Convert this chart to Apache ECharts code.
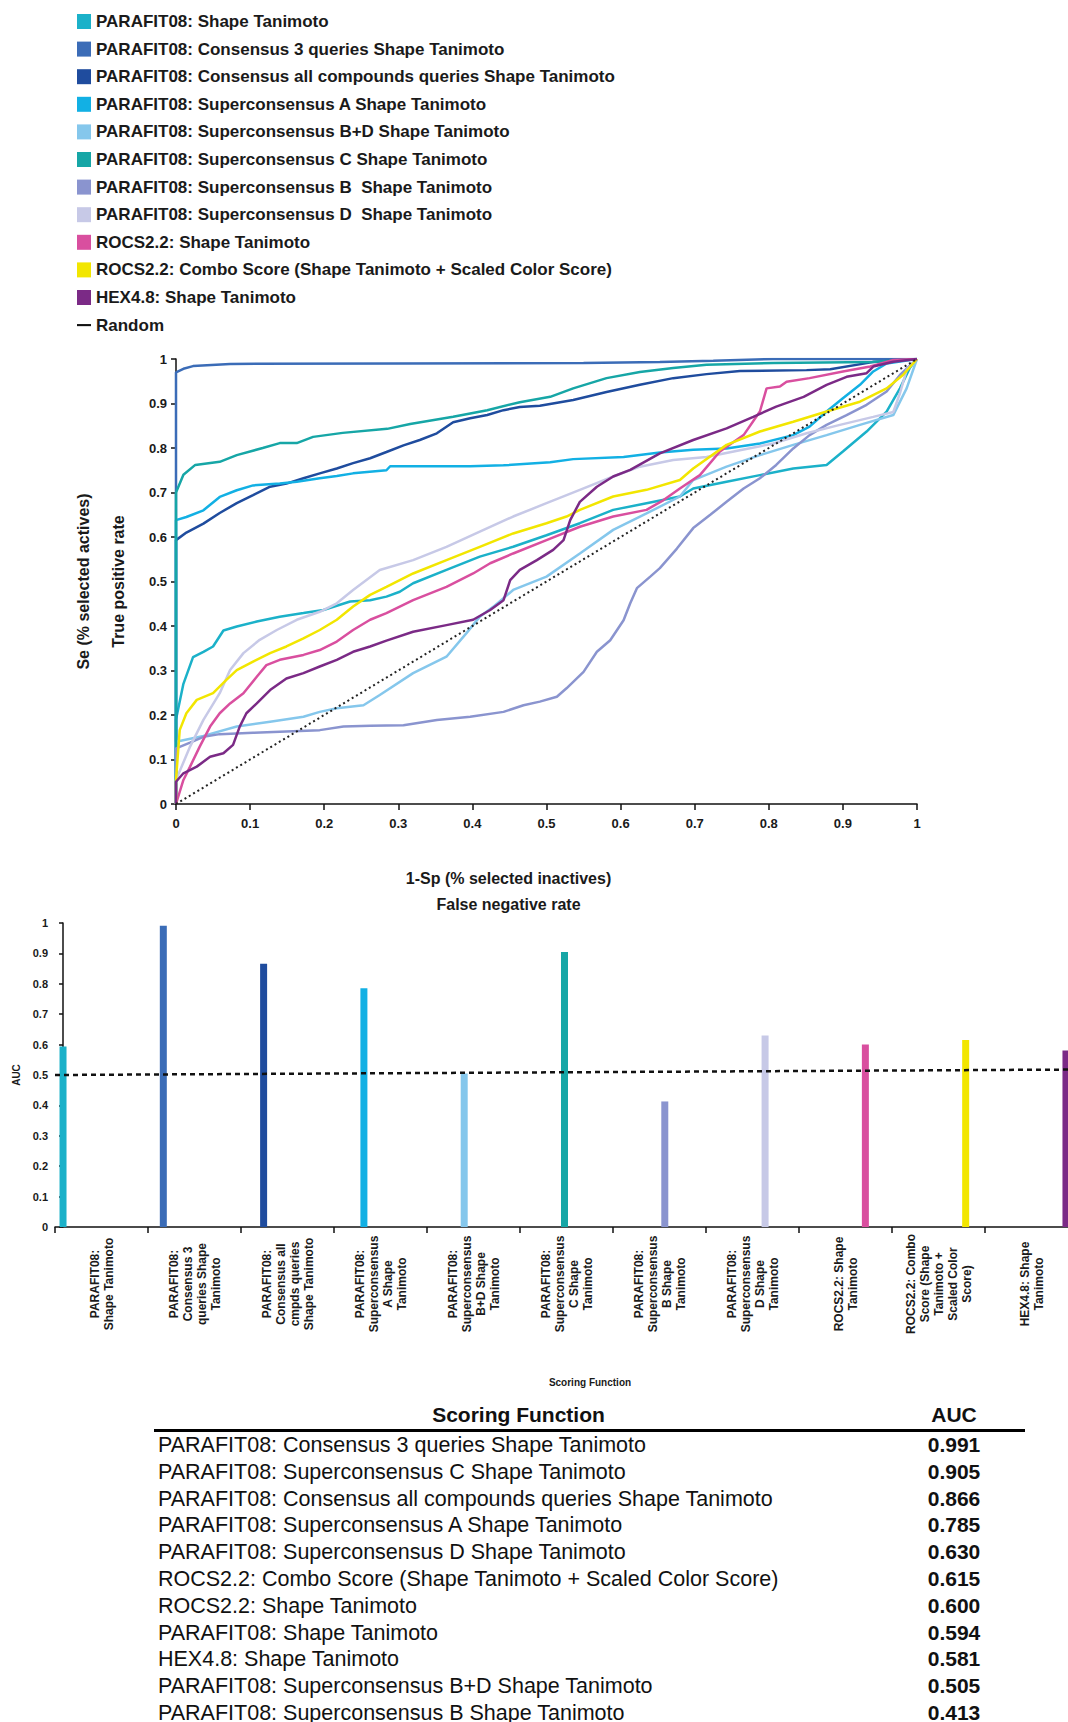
<!DOCTYPE html>
<html>
<head>
<meta charset="utf-8">
<script src="https://cdn.jsdelivr.net/npm/echarts@6/dist/echarts.min.js"></script>
<style>
  body { margin: 0; background: #fff; }
  #chart { position: absolute; left: 0; top: 0; width: 1068px; height: 1722px; }
  #aucTable { position: absolute; left: 154px; top: 1401px; width: 871px; border-collapse: collapse;
    font-family: "Liberation Sans", Arial, sans-serif; color: #111; }
  #aucTable th { font-size: 21px; font-weight: bold; height: 28px; line-height: 28px; padding: 0;
    border-bottom: 3px solid #000; }
  #aucTable td { font-size: 21.5px; height: 26.8px; line-height: 26.8px; padding: 0; white-space: nowrap; }
  #aucTable td.name { padding-left: 4px; }
  #aucTable td.auc, #aucTable th.auc { text-align: center; width: 142px; }
  #aucTable td.auc { font-weight: bold; font-size: 21px; }
</style>
</head>
<body>
<div id="chart"></div>
<table id="aucTable"><thead><tr><th>Scoring Function</th><th class="auc">AUC</th></tr></thead><tbody></tbody></table>
<script>
// ROC curves, [1-Sp, Se]
var shapeTan = [[0,0],[0,0.19],[0.01,0.27],[0.023,0.33],[0.037,0.342],[0.05,0.354],[0.064,0.39],[0.082,0.399],[0.109,0.41],[0.14,0.421],[0.172,0.429],[0.199,0.436],[0.235,0.455],[0.262,0.458],[0.284,0.466],[0.302,0.477],[0.32,0.496],[0.365,0.526],[0.41,0.556],[0.455,0.578],[0.5,0.604],[0.545,0.631],[0.59,0.661],[0.635,0.676],[0.68,0.691],[0.698,0.709],[0.743,0.724],[0.788,0.739],[0.833,0.754],[0.878,0.762],[0.9,0.792],[0.932,0.837],[0.959,0.882],[0.977,0.934],[0.99,0.979],[1,1]]
var cons3 = [[0,0],[0,0.97],[0.01,0.978],[0.023,0.984],[0.073,0.989],[0.3,0.99],[0.55,0.991],[0.653,0.993],[0.725,0.996],[0.806,1],[1,1]]
var consAll = [[0,0],[0,0.593],[0.014,0.61],[0.037,0.63],[0.059,0.654],[0.082,0.676],[0.104,0.694],[0.127,0.713],[0.149,0.72],[0.172,0.732],[0.194,0.743],[0.217,0.754],[0.239,0.766],[0.262,0.777],[0.284,0.791],[0.307,0.806],[0.329,0.818],[0.352,0.833],[0.374,0.858],[0.397,0.867],[0.42,0.874],[0.442,0.885],[0.464,0.892],[0.491,0.895],[0.536,0.908],[0.581,0.926],[0.626,0.942],[0.671,0.957],[0.716,0.966],[0.761,0.973],[0.851,0.975],[0.883,0.977],[0.94,0.993],[1,1]]
var supA = [[0,0],[0,0.638],[0.014,0.645],[0.037,0.66],[0.059,0.69],[0.082,0.705],[0.104,0.716],[0.14,0.72],[0.163,0.724],[0.194,0.732],[0.217,0.737],[0.239,0.743],[0.284,0.75],[0.289,0.759],[0.397,0.759],[0.442,0.761],[0.505,0.768],[0.536,0.775],[0.604,0.78],[0.653,0.79],[0.698,0.796],[0.743,0.799],[0.788,0.81],[0.833,0.829],[0.855,0.848],[0.878,0.882],[0.9,0.912],[0.923,0.942],[0.941,0.972],[0.959,0.99],[1,1]]
var supBD = [[0,0],[0,0.14],[0.037,0.153],[0.082,0.174],[0.127,0.185],[0.172,0.196],[0.194,0.207],[0.217,0.215],[0.253,0.222],[0.275,0.245],[0.32,0.294],[0.365,0.331],[0.392,0.384],[0.41,0.421],[0.428,0.443],[0.455,0.481],[0.5,0.511],[0.545,0.563],[0.59,0.616],[0.635,0.653],[0.68,0.691],[0.698,0.728],[0.743,0.758],[0.788,0.784],[0.833,0.807],[0.878,0.829],[0.923,0.852],[0.968,0.874],[0.986,0.934],[1,1]]
var supC = [[0,0],[0,0.70],[0.01,0.74],[0.026,0.762],[0.059,0.769],[0.082,0.784],[0.117,0.80],[0.14,0.811],[0.163,0.811],[0.185,0.825],[0.225,0.834],[0.285,0.843],[0.316,0.854],[0.374,0.87],[0.42,0.885],[0.464,0.903],[0.505,0.915],[0.536,0.934],[0.581,0.957],[0.626,0.971],[0.671,0.98],[0.716,0.987],[0.806,0.991],[0.94,0.993],[1,1]]
var supB = [[0,0],[0,0.125],[0.019,0.138],[0.037,0.151],[0.059,0.157],[0.104,0.16],[0.149,0.163],[0.194,0.166],[0.226,0.174],[0.262,0.176],[0.307,0.177],[0.352,0.189],[0.397,0.196],[0.442,0.207],[0.469,0.222],[0.491,0.23],[0.514,0.241],[0.527,0.26],[0.55,0.297],[0.568,0.342],[0.586,0.368],[0.604,0.413],[0.613,0.451],[0.622,0.485],[0.64,0.511],[0.653,0.53],[0.676,0.574],[0.698,0.62],[0.721,0.65],[0.743,0.679],[0.766,0.709],[0.788,0.732],[0.81,0.762],[0.833,0.799],[0.855,0.829],[0.878,0.852],[0.905,0.874],[0.932,0.897],[0.959,0.927],[0.977,0.964],[1,1]]
var supD = [[0,0],[0,0.054],[0.019,0.129],[0.037,0.189],[0.059,0.249],[0.073,0.301],[0.091,0.339],[0.113,0.369],[0.136,0.391],[0.163,0.414],[0.194,0.432],[0.217,0.451],[0.239,0.481],[0.275,0.526],[0.32,0.548],[0.365,0.578],[0.41,0.612],[0.455,0.646],[0.5,0.676],[0.545,0.706],[0.59,0.736],[0.626,0.758],[0.671,0.773],[0.716,0.78],[0.761,0.795],[0.806,0.81],[0.851,0.833],[0.896,0.852],[0.941,0.87],[0.968,0.881],[0.977,0.923],[0.986,0.975],[1,1]]
var rocsShape = [[0,0],[0.01,0.054],[0.019,0.084],[0.032,0.129],[0.046,0.174],[0.059,0.204],[0.073,0.226],[0.091,0.249],[0.109,0.286],[0.122,0.312],[0.14,0.324],[0.172,0.335],[0.194,0.346],[0.217,0.365],[0.239,0.391],[0.262,0.414],[0.284,0.429],[0.32,0.458],[0.365,0.488],[0.401,0.518],[0.424,0.541],[0.455,0.563],[0.5,0.593],[0.545,0.623],[0.59,0.646],[0.635,0.661],[0.658,0.683],[0.68,0.709],[0.707,0.739],[0.734,0.792],[0.766,0.829],[0.788,0.882],[0.797,0.934],[0.815,0.938],[0.824,0.949],[0.855,0.957],[0.9,0.972],[0.937,0.983],[0.968,0.998],[1,1]]
var rocsCombo = [[0,0],[0,0.054],[0.005,0.166],[0.014,0.204],[0.028,0.234],[0.05,0.249],[0.068,0.279],[0.082,0.301],[0.104,0.32],[0.127,0.339],[0.149,0.354],[0.172,0.372],[0.194,0.391],[0.217,0.414],[0.239,0.444],[0.262,0.47],[0.284,0.488],[0.32,0.518],[0.365,0.548],[0.41,0.578],[0.455,0.608],[0.5,0.631],[0.527,0.646],[0.545,0.661],[0.59,0.691],[0.635,0.706],[0.68,0.728],[0.698,0.754],[0.743,0.807],[0.788,0.837],[0.833,0.859],[0.878,0.882],[0.923,0.904],[0.959,0.934],[0.981,0.964],[1,1]]
var hexShape = [[0,0],[0,0.05],[0.01,0.069],[0.028,0.084],[0.046,0.106],[0.064,0.114],[0.077,0.133],[0.086,0.174],[0.095,0.204],[0.109,0.226],[0.127,0.256],[0.149,0.282],[0.172,0.294],[0.194,0.309],[0.217,0.324],[0.239,0.342],[0.262,0.354],[0.284,0.367],[0.32,0.387],[0.365,0.402],[0.401,0.414],[0.424,0.436],[0.442,0.458],[0.451,0.503],[0.464,0.526],[0.487,0.548],[0.509,0.571],[0.523,0.593],[0.532,0.638],[0.545,0.679],[0.568,0.713],[0.59,0.736],[0.613,0.751],[0.653,0.788],[0.698,0.818],[0.743,0.844],[0.779,0.87],[0.81,0.893],[0.847,0.915],[0.878,0.942],[0.905,0.96],[0.932,0.968],[0.941,0.983],[0.968,0.994],[1,1]]
var randomRoc = [[0,0],[1,1]]

var rocNames = ['PARAFIT08: Shape Tanimoto', 'PARAFIT08: Consensus 3 queries Shape Tanimoto',
  'PARAFIT08: Consensus all compounds queries Shape Tanimoto', 'PARAFIT08: Superconsensus A Shape Tanimoto',
  'PARAFIT08: Superconsensus B+D Shape Tanimoto', 'PARAFIT08: Superconsensus C Shape Tanimoto',
  'PARAFIT08: Superconsensus B  Shape Tanimoto', 'PARAFIT08: Superconsensus D  Shape Tanimoto',
  'ROCS2.2: Shape Tanimoto', 'ROCS2.2: Combo Score (Shape Tanimoto + Scaled Color Score)', 'HEX4.8: Shape Tanimoto']
var rocCurves = [shapeTan, cons3, consAll, supA, supBD, supC, supB, supD, rocsShape, rocsCombo, hexShape]
var colors = ['#1bb1c9', '#3b6cb7', '#1f4c9e', '#12b0e4', '#85c7ec', '#16a6a6', '#8a94cf', '#c7c9e7', '#d94f9f', '#f2e600', '#7b2a86']

// AUC bar chart
var barLabels = ['PARAFIT08:\nShape Tanimoto', 'PARAFIT08:\nConsensus 3\nqueries Shape\nTanimoto',
  'PARAFIT08:\nConsensus all\ncmpds queries\nShape Tanimoto', 'PARAFIT08:\nSuperconsensus\nA Shape\nTanimoto',
  'PARAFIT08:\nSuperconsensus\nB+D Shape\nTanimoto', 'PARAFIT08:\nSuperconsensus\nC Shape\nTanimoto',
  'PARAFIT08:\nSuperconsensus\nB Shape\nTanimoto', 'PARAFIT08:\nSuperconsensus\nD Shape\nTanimoto',
  'ROCS2.2: Shape\nTanimoto', 'ROCS2.2: Combo\nScore (Shape\nTanimoto +\nScaled Color\nScore)', 'HEX4.8: Shape\nTanimoto']
var barAuc = [0.594, 0.991, 0.866, 0.785, 0.505, 0.905, 0.413, 0.630, 0.600, 0.615, 0.581]
var randomAuc = [[-0.08, 0.500], [10.12, 0.518]]

// table, sorted as printed
var tableNames = ['PARAFIT08: Consensus 3 queries Shape Tanimoto', 'PARAFIT08: Superconsensus C Shape Tanimoto',
  'PARAFIT08: Consensus all compounds queries Shape Tanimoto', 'PARAFIT08: Superconsensus A Shape Tanimoto',
  'PARAFIT08: Superconsensus D Shape Tanimoto', 'ROCS2.2: Combo Score (Shape Tanimoto + Scaled Color Score)',
  'ROCS2.2: Shape Tanimoto', 'PARAFIT08: Shape Tanimoto', 'HEX4.8: Shape Tanimoto',
  'PARAFIT08: Superconsensus B+D Shape Tanimoto', 'PARAFIT08: Superconsensus B Shape Tanimoto']
var tableAuc = ['0.991', '0.905', '0.866', '0.785', '0.630', '0.615', '0.600', '0.594', '0.581', '0.505', '0.413']

var FONT = '"Liberation Sans", Arial, sans-serif'
var INK = '#1a1a1a'

var tbody = document.querySelector('#aucTable tbody')
tableNames.forEach(function (n, i) {
  var tr = document.createElement('tr')
  tr.innerHTML = '<td class="name">' + n + '</td><td class="auc">' + tableAuc[i] + '</td>'
  tbody.appendChild(tr)
})

var series = rocCurves.map(function (d, i) {
  return {
    name: rocNames[i], type: 'line', xAxisIndex: 0, yAxisIndex: 0, data: d,
    symbol: 'none', color: colors[i], lineStyle: {width: 2.5, color: colors[i]}
  }
})
series.push({
  name: 'Random', type: 'line', xAxisIndex: 0, yAxisIndex: 0, data: randomRoc, symbol: 'none',
  color: '#111', lineStyle: {width: 2, color: '#222', type: [2, 3]}
})
series.push({
  name: 'AUC', type: 'bar', xAxisIndex: 2, yAxisIndex: 1, barWidth: 7,
  data: barAuc.map(function (v, i) {
    return {value: [i, v], itemStyle: {color: colors[i]}}
  })
})
series.push({
  name: 'AUC random', type: 'line', xAxisIndex: 2, yAxisIndex: 1, data: randomAuc, symbol: 'none', z: 5,
  lineStyle: {width: 2.5, color: '#111', type: [5, 4]}
})

var legendData = rocNames.map(function (n) {
  return {name: n, icon: 'rect'}
})
legendData.push({name: 'Random', icon: 'path://M0,0H20V3H0Z'})

var axisLine = {lineStyle: {color: '#111', width: 1.5}}

var option = {
  animation: false,
  backgroundColor: '#fff',
  textStyle: {fontFamily: FONT},
  legend: {
    orient: 'vertical', left: 72, top: 8, itemWidth: 14, itemHeight: 15, itemGap: 10.6,
    selectedMode: false, data: legendData,
    textStyle: {fontFamily: FONT, fontSize: 17, fontWeight: 'bold', color: INK, lineHeight: 17}
  },
  grid: [
    {left: 176, top: 359, width: 741, height: 445, outerBoundsMode: 'none'},
    {left: 55, top: 923, width: 1023, height: 304, outerBoundsMode: 'none'}
  ],
  xAxis: [
    {
      type: 'value', gridIndex: 0, min: 0, max: 1, interval: 0.1, splitLine: {show: false},
      axisLine: axisLine, axisTick: {show: true, length: 6, lineStyle: {color: '#111', width: 1.5}},
      axisLabel: {fontSize: 13, fontWeight: 'bold', color: INK, margin: 13},
      name: '1-Sp (% selected inactives)\nFalse negative rate', nameLocation: 'middle', nameGap: 61,
      nameTextStyle: {fontSize: 16, fontWeight: 'bold', color: INK, lineHeight: 26, padding: [0, 76, 0, 0]}
    },
    {
      type: 'category', gridIndex: 1, data: barLabels, boundaryGap: true,
      axisLine: axisLine, axisTick: {show: true, length: 6, lineStyle: {color: '#111', width: 1.5}},
      axisLabel: {interval: 0, rotate: 90, align: 'center', verticalAlign: 'middle', margin: 57,
        fontSize: 12, fontWeight: 'bold', color: INK, lineHeight: 14},
      name: 'Scoring Function', nameLocation: 'middle', nameGap: 150,
      nameTextStyle: {fontSize: 10, fontWeight: 'bold', color: INK, padding: [0, 0, 0, 47]}
    },
    {type: 'value', gridIndex: 1, min: -0.08, max: 10.12, show: false, splitLine: {show: false}}
  ],
  yAxis: [
    {
      type: 'value', gridIndex: 0, min: 0, max: 1, interval: 0.1, splitLine: {show: false},
      axisLine: {show: true, lineStyle: {color: '#111', width: 1.5}},
      axisTick: {show: true, length: 5, lineStyle: {color: '#111', width: 1.5}},
      axisLabel: {fontSize: 13, fontWeight: 'bold', color: INK, margin: 9},
      name: 'Se (% selected actives)\nTrue positive rate', nameLocation: 'middle', nameGap: 40,
      nameTextStyle: {fontSize: 16, fontWeight: 'bold', color: INK, lineHeight: 35}
    },
    {
      type: 'value', gridIndex: 1, min: 0, max: 1, interval: 0.1, splitLine: {show: false},
      axisLine: {show: true, lineStyle: {color: '#111', width: 1.5}},
      axisTick: {show: true, length: 4, lineStyle: {color: '#111', width: 1.5}},
      axisLabel: {fontSize: 11, fontWeight: 'bold', color: INK, margin: 7},
      name: 'AUC', nameLocation: 'middle', nameGap: 34,
      nameTextStyle: {fontSize: 10, fontWeight: 'bold', color: INK}
    }
  ],
  series: series
}

var chart = echarts.init(document.getElementById('chart'), null, {renderer: 'svg'})
chart.setOption(option)
</script>
</body>
</html>
